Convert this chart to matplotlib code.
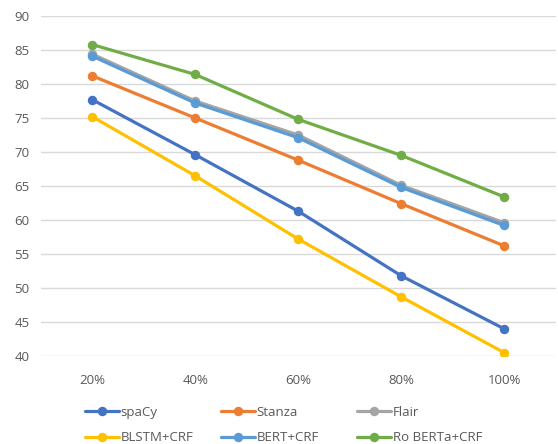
import matplotlib.pyplot as plt

# =========================
# DATA
# =========================
categories = ["20%", "40%", "60%", "80%", "100%"]

spacy = [77.7, 69.6, 61.3, 51.8, 44.0]
stanza = [81.2, 75.0, 68.8, 62.4, 56.2]
flair = [84.4, 77.5, 72.5, 65.1, 59.6]
blstm_crf = [75.2, 66.5, 57.2, 48.7, 40.5]
bert_crf = [84.1, 77.2, 72.1, 64.8, 59.2]
roberta_crf = [85.8, 81.4, 74.8, 69.5, 63.4]

series = [
    ("spaCy", spacy, "#4472C4"),
    ("Stanza", stanza, "#ED7D31"),
    ("Flair", flair, "#A5A5A5"),
    ("BLSTM+CRF", blstm_crf, "#FFC000"),
    ("BERT+CRF", bert_crf, "#5B9BD5"),
    ("Ro BERTa+CRF", roberta_crf, "#70AD47"),
]

# =========================
# PLOT
# =========================
plt.rcParams["font.family"] = ["Open Sans", "DejaVu Sans"]
text_color = "#595959"

fig = plt.figure(figsize=(5.58, 4.44), dpi=100)
ax = fig.add_axes([0.073, 0.198, 0.923, 0.766])

x = list(range(len(categories)))
handles = []
for name, vals, color in series:
    h, = ax.plot(x, vals, color=color, lw=2.3, marker="o", markersize=5.8,
                 label=name, solid_capstyle="round")
    handles.append(h)

ax.set_xlim(-0.5, len(categories) - 0.5)
ax.set_ylim(40, 90)
ax.set_yticks(range(40, 91, 5))
ax.set_xticks(x)
ax.set_xticklabels(categories)

ax.grid(axis="y", color="#D9D9D9", lw=1)
ax.set_axisbelow(True)
for s in ax.spines.values():
    s.set_visible(False)
ax.tick_params(length=0, colors=text_color, labelsize=9.5)
ax.tick_params(axis="x", pad=13)
ax.tick_params(axis="y", pad=8)

# legend: three equal-width columns, filled row by row
col_x = [0.152, 0.396, 0.640]
for col in range(3):
    idx = [col, col + 3]
    fig.legend([handles[i] for i in idx], [series[i][0] for i in idx],
               loc="upper left", bbox_to_anchor=(col_x[col], 0.086),
               frameon=False, fontsize=9.5, labelcolor=text_color,
               handlelength=2.6, handletextpad=0.1, labelspacing=0.95,
               borderpad=0, borderaxespad=0)

fig.savefig("out.png", dpi=100)
